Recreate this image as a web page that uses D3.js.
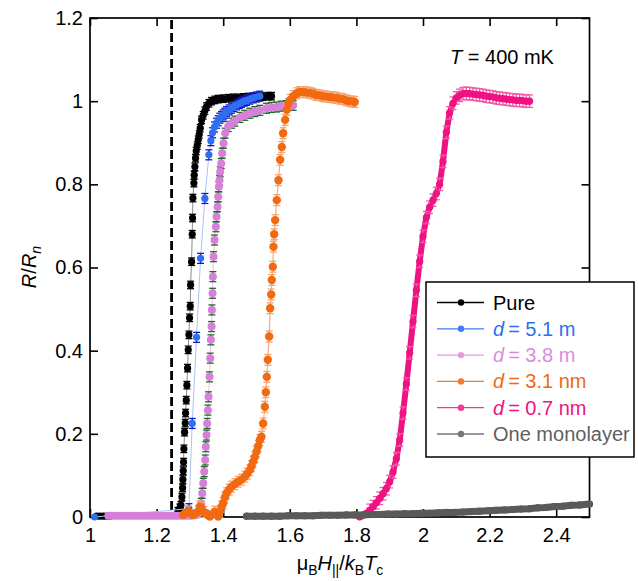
<!DOCTYPE html>
<html>
<head>
<meta charset="utf-8">
<script src="https://cdn.jsdelivr.net/npm/d3@7"></script>
<style>
      body { margin: 0; background: #fff; }
      svg { display: block; font-family: "Liberation Sans", Arial, sans-serif; }
</style>
</head>
<body>
<svg></svg>
<script>
// values: [field, R/Rn]
const pure = [
      [1.02, 0.002], [1.03, 0.002], [1.04, 0.002], [1.05, 0.002], [1.06, 0.002],
      [1.255, 0.004], [1.264, 0.014], [1.27, 0.022], [1.273, 0.028], [1.276, 0.048],
      [1.278, 0.07], [1.279, 0.09], [1.28, 0.111], [1.281, 0.132], [1.282, 0.164],
      [1.284, 0.204], [1.286, 0.226], [1.287, 0.25], [1.289, 0.281], [1.291, 0.317],
      [1.293, 0.358], [1.295, 0.402], [1.297, 0.438], [1.299, 0.479], [1.301, 0.507],
      [1.302, 0.558], [1.305, 0.614], [1.307, 0.68], [1.308, 0.719], [1.309, 0.767],
      [1.312, 0.803], [1.313, 0.822], [1.315, 0.842], [1.317, 0.863], [1.319, 0.88],
      [1.322, 0.893], [1.325, 0.907], [1.328, 0.92], [1.331, 0.935], [1.335, 0.955],
      [1.34, 0.966], [1.345, 0.977], [1.35, 0.987], [1.357, 0.995], [1.365, 1.0],
      [1.375, 1.003], [1.385, 1.005], [1.4, 1.006], [1.415, 1.007], [1.43, 1.008],
      [1.445, 1.008], [1.46, 1.009], [1.475, 1.01], [1.49, 1.01], [1.505, 1.011],
      [1.52, 1.011], [1.535, 1.012], [1.545, 1.012]]

const d51 = [
      [1.014, 0.0], [1.297, 0.02], [1.307, 0.225], [1.32, 0.432], [1.332, 0.622],
      [1.345, 0.766], [1.357, 0.871], [1.363, 0.905], [1.368, 0.924], [1.374, 0.938],
      [1.38, 0.947], [1.385, 0.953], [1.39, 0.959], [1.395, 0.963], [1.4, 0.967],
      [1.405, 0.971], [1.41, 0.975], [1.418, 0.979], [1.425, 0.983], [1.432, 0.987],
      [1.44, 0.991], [1.448, 0.994], [1.455, 0.997], [1.463, 1.0], [1.47, 1.002],
      [1.48, 1.005], [1.49, 1.008], [1.5, 1.01], [1.51, 1.012]]

const d38 = [
      [1.055, 0.003], [1.065, 0.003], [1.075, 0.003], [1.085, 0.003], [1.095, 0.003],
      [1.105, 0.003], [1.115, 0.003], [1.125, 0.003], [1.135, 0.003], [1.145, 0.003],
      [1.155, 0.003], [1.165, 0.003], [1.175, 0.003], [1.185, 0.003], [1.195, 0.003],
      [1.205, 0.003], [1.215, 0.003], [1.225, 0.003], [1.235, 0.003], [1.245, 0.003],
      [1.255, 0.003], [1.265, 0.003], [1.275, 0.003], [1.285, 0.003], [1.295, 0.003],
      [1.305, 0.003], [1.315, 0.004], [1.32, 0.005], [1.325, 0.01], [1.33, 0.017],
      [1.334, 0.033], [1.337, 0.057], [1.34, 0.081], [1.343, 0.109], [1.346, 0.137],
      [1.348, 0.169], [1.35, 0.197], [1.352, 0.225], [1.354, 0.257], [1.356, 0.289],
      [1.359, 0.337], [1.361, 0.382], [1.363, 0.426], [1.365, 0.458], [1.366, 0.498],
      [1.368, 0.538], [1.369, 0.578], [1.371, 0.626], [1.374, 0.666], [1.378, 0.698],
      [1.38, 0.722], [1.383, 0.746], [1.385, 0.77], [1.387, 0.794], [1.389, 0.81],
      [1.391, 0.83], [1.394, 0.85], [1.397, 0.875], [1.401, 0.899], [1.406, 0.923],
      [1.415, 0.939], [1.425, 0.947], [1.435, 0.952], [1.45, 0.961], [1.465, 0.966],
      [1.48, 0.971], [1.495, 0.975], [1.51, 0.978], [1.53, 0.983], [1.545, 0.985],
      [1.56, 0.986], [1.575, 0.988], [1.59, 0.989], [1.61, 0.99]]

const d31 = [
      [1.28, 0.005], [1.288, 0.01], [1.295, 0.013], [1.302, 0.008], [1.31, 0.005],
      [1.318, 0.01], [1.325, 0.013], [1.33, 0.025], [1.335, 0.021], [1.342, 0.012],
      [1.35, 0.009], [1.355, 0.004], [1.36, 0.001], [1.367, 0.006], [1.375, 0.013],
      [1.38, 0.006], [1.385, 0.001], [1.39, 0.012], [1.395, 0.025], [1.4, 0.033],
      [1.405, 0.047], [1.41, 0.057], [1.418, 0.066], [1.425, 0.073], [1.435, 0.079],
      [1.445, 0.085], [1.455, 0.09], [1.465, 0.097], [1.472, 0.104], [1.48, 0.113],
      [1.485, 0.122], [1.49, 0.133], [1.495, 0.144], [1.5, 0.157], [1.505, 0.17],
      [1.51, 0.185], [1.515, 0.193], [1.52, 0.225], [1.525, 0.265], [1.528, 0.3],
      [1.531, 0.337], [1.534, 0.378], [1.538, 0.434], [1.541, 0.502], [1.544, 0.535],
      [1.546, 0.57], [1.549, 0.602], [1.551, 0.65], [1.553, 0.68], [1.556, 0.714],
      [1.561, 0.762], [1.566, 0.81], [1.571, 0.859], [1.576, 0.89], [1.58, 0.923],
      [1.586, 0.955], [1.591, 0.979], [1.596, 0.993], [1.601, 1.003], [1.61, 1.012],
      [1.621, 1.019], [1.63, 1.022], [1.64, 1.022], [1.65, 1.021], [1.66, 1.02],
      [1.67, 1.018], [1.68, 1.015], [1.69, 1.014], [1.7, 1.012], [1.71, 1.011],
      [1.72, 1.01], [1.73, 1.009], [1.74, 1.008], [1.75, 1.006], [1.76, 1.005],
      [1.77, 1.002], [1.78, 1.0], [1.79, 0.999], [1.795, 0.998]]

const d07 = [
      [1.81, 0.0], [1.82, 0.004], [1.83, 0.009], [1.84, 0.016], [1.85, 0.025],
      [1.86, 0.034], [1.87, 0.045], [1.88, 0.056], [1.89, 0.068], [1.9, 0.085],
      [1.91, 0.108], [1.92, 0.14], [1.93, 0.185], [1.94, 0.25], [1.95, 0.32],
      [1.96, 0.395], [1.97, 0.47], [1.98, 0.545], [1.99, 0.615], [2.0, 0.675],
      [2.01, 0.72], [2.02, 0.745], [2.03, 0.762], [2.04, 0.778], [2.05, 0.8],
      [2.06, 0.855], [2.07, 0.925], [2.08, 0.972], [2.09, 0.995], [2.1, 1.008],
      [2.11, 1.014], [2.12, 1.018], [2.13, 1.019], [2.14, 1.018], [2.15, 1.017],
      [2.16, 1.016], [2.17, 1.015], [2.18, 1.014], [2.19, 1.012], [2.2, 1.011],
      [2.21, 1.01], [2.22, 1.008], [2.23, 1.007], [2.24, 1.006], [2.25, 1.005],
      [2.26, 1.004], [2.27, 1.003], [2.28, 1.002], [2.29, 1.002], [2.3, 1.001],
      [2.31, 1.0], [2.32, 1.0]]

const mono = [
      [1.47, 0.002], [1.495, 0.002], [1.52, 0.002], [1.545, 0.002], [1.57, 0.002],
      [1.595, 0.003], [1.62, 0.003], [1.645, 0.003], [1.67, 0.003], [1.695, 0.004],
      [1.72, 0.004], [1.745, 0.004], [1.77, 0.005], [1.795, 0.005], [1.82, 0.005],
      [1.845, 0.006], [1.87, 0.006], [1.895, 0.007], [1.92, 0.007], [1.945, 0.008],
      [1.97, 0.008], [1.995, 0.009], [2.02, 0.009], [2.045, 0.01], [2.07, 0.011],
      [2.095, 0.011], [2.12, 0.012], [2.145, 0.013], [2.17, 0.014], [2.195, 0.015],
      [2.22, 0.016], [2.245, 0.017], [2.27, 0.018], [2.295, 0.019], [2.32, 0.02],
      [2.345, 0.022], [2.37, 0.023], [2.395, 0.025], [2.42, 0.026], [2.445, 0.028],
      [2.47, 0.029], [2.5, 0.031]]

// error bar half widths
const errs = [0.009, 0.012, 0.012, 0.013, 0.015, 0]

const xTicks = [1, 1.2, 1.4, 1.6, 1.8, 2, 2.2, 2.4]
const yTicks = [0, 0.2, 0.4, 0.6, 0.8, 1, 1.2]
const hc2 = 1.245   // dashed line position

const labels = ["Pure", "5.1 m", "3.8 m", "3.1 nm", "0.7 nm", "One monolayer"]

const width = 638
const height = 581

const svg = d3.select("svg")
      .attr("width", width)
      .attr("height", height)

const x = d3.scaleLinear().domain([1, 2.5]).range([90, 589.5])
const y = d3.scaleLinear().domain([0, 1.2]).range([517, 18])

const series = [
      { data: pure, err: errs[0], color: "#000000", line: "#8c8c8c", bar: "#000000", r: 3.6, lw: 1, text: "#000000", leg: "#000000" },
      { data: d51, err: errs[1], color: "#2c6ff2", line: "#a9c4f7", bar: "#1515c8", r: 3.6, lw: 1, text: "#2c6ff2", leg: "#3e7df2" },
      { data: d38, err: errs[2], color: "#d77fda", line: "#ebbdec", bar: "#1f6a2a", r: 4, lw: 1, text: "#d98cdc", leg: "#e19be3" },
      { data: d31, err: errs[3], color: "#f16a12", line: "#f7ad7b", bar: "#f7a26a", r: 4.2, lw: 1.2, text: "#f16a12", leg: "#f27a2a" },
      { data: d07, err: errs[4], color: "#ef1283", line: "#ef1283", bar: "#f25aa6", r: 3.6, lw: 6, text: "#ef1283", leg: "#f0389a" },
      { data: mono, err: errs[5], color: "#5a5a5a", line: "#5a5a5a", bar: "#5a5a5a", r: 3.6, lw: 7, text: "#5f5f5f", leg: "#777777" }]

// frame + ticks on all four sides, pointing in
svg.append("g")
      .attr("transform", `translate(0,${y(0)})`)
      .call(d3.axisBottom(x).tickValues(xTicks).tickFormat(d => String(d)).tickSize(-8).tickSizeOuter(0).tickPadding(11))
      .call(g => g.select(".domain").remove())
      .call(g => g.selectAll("text").attr("font-size", 20).attr("font-family", null).attr("fill", "#000"))
      .call(g => g.selectAll("line").attr("stroke-width", 1.6))

svg.append("g")
      .attr("transform", `translate(0,${y(1.2)})`)
      .call(d3.axisTop(x).tickValues(xTicks).tickFormat("").tickSize(-8).tickSizeOuter(0))
      .call(g => g.select(".domain").remove())
      .call(g => g.selectAll("line").attr("stroke-width", 1.6))

svg.append("g")
      .attr("transform", `translate(${x(1)},0)`)
      .call(d3.axisLeft(y).tickValues(yTicks).tickFormat(d => String(d)).tickSize(-8).tickSizeOuter(0).tickPadding(7))
      .call(g => g.select(".domain").remove())
      .call(g => g.selectAll("text").attr("font-size", 20).attr("font-family", null).attr("fill", "#000"))
      .call(g => g.selectAll("line").attr("stroke-width", 1.6))

svg.append("g")
      .attr("transform", `translate(${x(2.5)},0)`)
      .call(d3.axisRight(y).tickValues(yTicks).tickFormat("").tickSize(-8).tickSizeOuter(0))
      .call(g => g.select(".domain").remove())
      .call(g => g.selectAll("line").attr("stroke-width", 1.6))

svg.append("rect")
      .attr("x", x(1))
      .attr("y", y(1.2))
      .attr("width", x(2.5) - x(1))
      .attr("height", y(0) - y(1.2))
      .attr("fill", "none")
      .attr("stroke", "#000")
      .attr("stroke-width", 1.7)

svg.append("line")
      .attr("x1", x(hc2))
      .attr("x2", x(hc2))
      .attr("y1", y(1.195))
      .attr("y2", y(0))
      .attr("stroke", "#000")
      .attr("stroke-width", 2.8)
      .attr("stroke-dasharray", "9,4")

const line = d3.line().x(d => x(d[0])).y(d => y(d[1]))

series.forEach(s => {
      const g = svg.append("g")

      g.append("path")
            .attr("d", line(s.data))
            .attr("fill", "none")
            .attr("stroke", s.line)
            .attr("stroke-width", s.lw)
            .attr("stroke-linecap", "round")
            .attr("stroke-linejoin", "round")

      // no visible bars on the flat zero-resistance part
      const withBars = s.data.filter(d => d[1] > 0.01)
      if (s.err > 0) {
            const eb = g.append("g")
                  .attr("stroke", s.bar)
                  .attr("stroke-width", 1.3)
                  .selectAll("g")
                  .data(withBars)
                  .join("g")
            eb.append("line")
                  .attr("x1", d => x(d[0]))
                  .attr("x2", d => x(d[0]))
                  .attr("y1", d => y(d[1] - s.err))
                  .attr("y2", d => y(d[1] + s.err))
            eb.append("line")
                  .attr("x1", d => x(d[0]) - 3.5)
                  .attr("x2", d => x(d[0]) + 3.5)
                  .attr("y1", d => y(d[1] - s.err))
                  .attr("y2", d => y(d[1] - s.err))
            eb.append("line")
                  .attr("x1", d => x(d[0]) - 3.5)
                  .attr("x2", d => x(d[0]) + 3.5)
                  .attr("y1", d => y(d[1] + s.err))
                  .attr("y2", d => y(d[1] + s.err))
      }

      g.append("g")
            .attr("fill", s.color)
            .selectAll("circle")
            .data(s.data)
            .join("circle")
            .attr("cx", d => x(d[0]))
            .attr("cy", d => y(d[1]))
            .attr("r", s.r)
})

// legend
const legend = svg.append("g")

legend.append("rect")
      .attr("x", 426)
      .attr("y", 282)
      .attr("width", 208)
      .attr("height", 175)
      .attr("fill", "#fff")
      .attr("stroke", "#000")
      .attr("stroke-width", 1.5)

const row = legend.selectAll("g")
      .data(series)
      .join("g")
      .attr("transform", (d, i) => `translate(0,${302.5 + i * 26.3})`)

row.append("line")
      .attr("x1", 437)
      .attr("x2", 484)
      .attr("stroke", d => d.leg)
      .attr("stroke-width", 1.3)

row.append("circle")
      .attr("cx", 461)
      .attr("r", 3.2)
      .attr("fill", d => d.leg)

row.append("text")
      .attr("x", 493)
      .attr("y", 7)
      .attr("font-size", 20)
      .attr("fill", d => d.text)
      .each(function(d, i) {
            const t = d3.select(this)
            if (i == 0 || i == 5) {
                  t.text(labels[i])
            } else {
                  t.append("tspan").attr("font-style", "italic").text("d")
                  t.append("tspan").text("\u2009= " + labels[i])
            }
      })

// annotation
const ann = svg.append("text")
      .attr("x", 450)
      .attr("y", 64)
      .attr("font-size", 20)
ann.append("tspan").attr("font-style", "italic").text("T")
ann.append("tspan").text(" = 400 mK")

// axis titles
function rich(t, parts) {
      let shift = 0
      parts.forEach(p => {
            const sub = p[1].includes("s")
            const dy = (sub ? 5 : 0) - shift
            shift = sub ? 5 : 0
            t.append("tspan")
                  .attr("dy", dy)
                  .attr("font-size", sub ? 14 : 20)
                  .attr("font-style", p[1].includes("i") ? "italic" : null)
                  .text(p[0])
      })
}

const xt = svg.append("text")
      .attr("x", 340)
      .attr("y", 570)
      .attr("text-anchor", "middle")
rich(xt, [["\u03bc", ""], ["B", "s"], ["H", "i"], ["||", "s"], ["/", ""], ["k", "i"], ["B", "s"], ["T", "i"], ["c", "s"]])

const yt = svg.append("text")
      .attr("transform", "translate(36,267) rotate(-90)")
      .attr("text-anchor", "middle")
rich(yt, [["R", "i"], ["/", ""], ["R", "i"], ["n", "is"]])
</script>
</body>
</html>
